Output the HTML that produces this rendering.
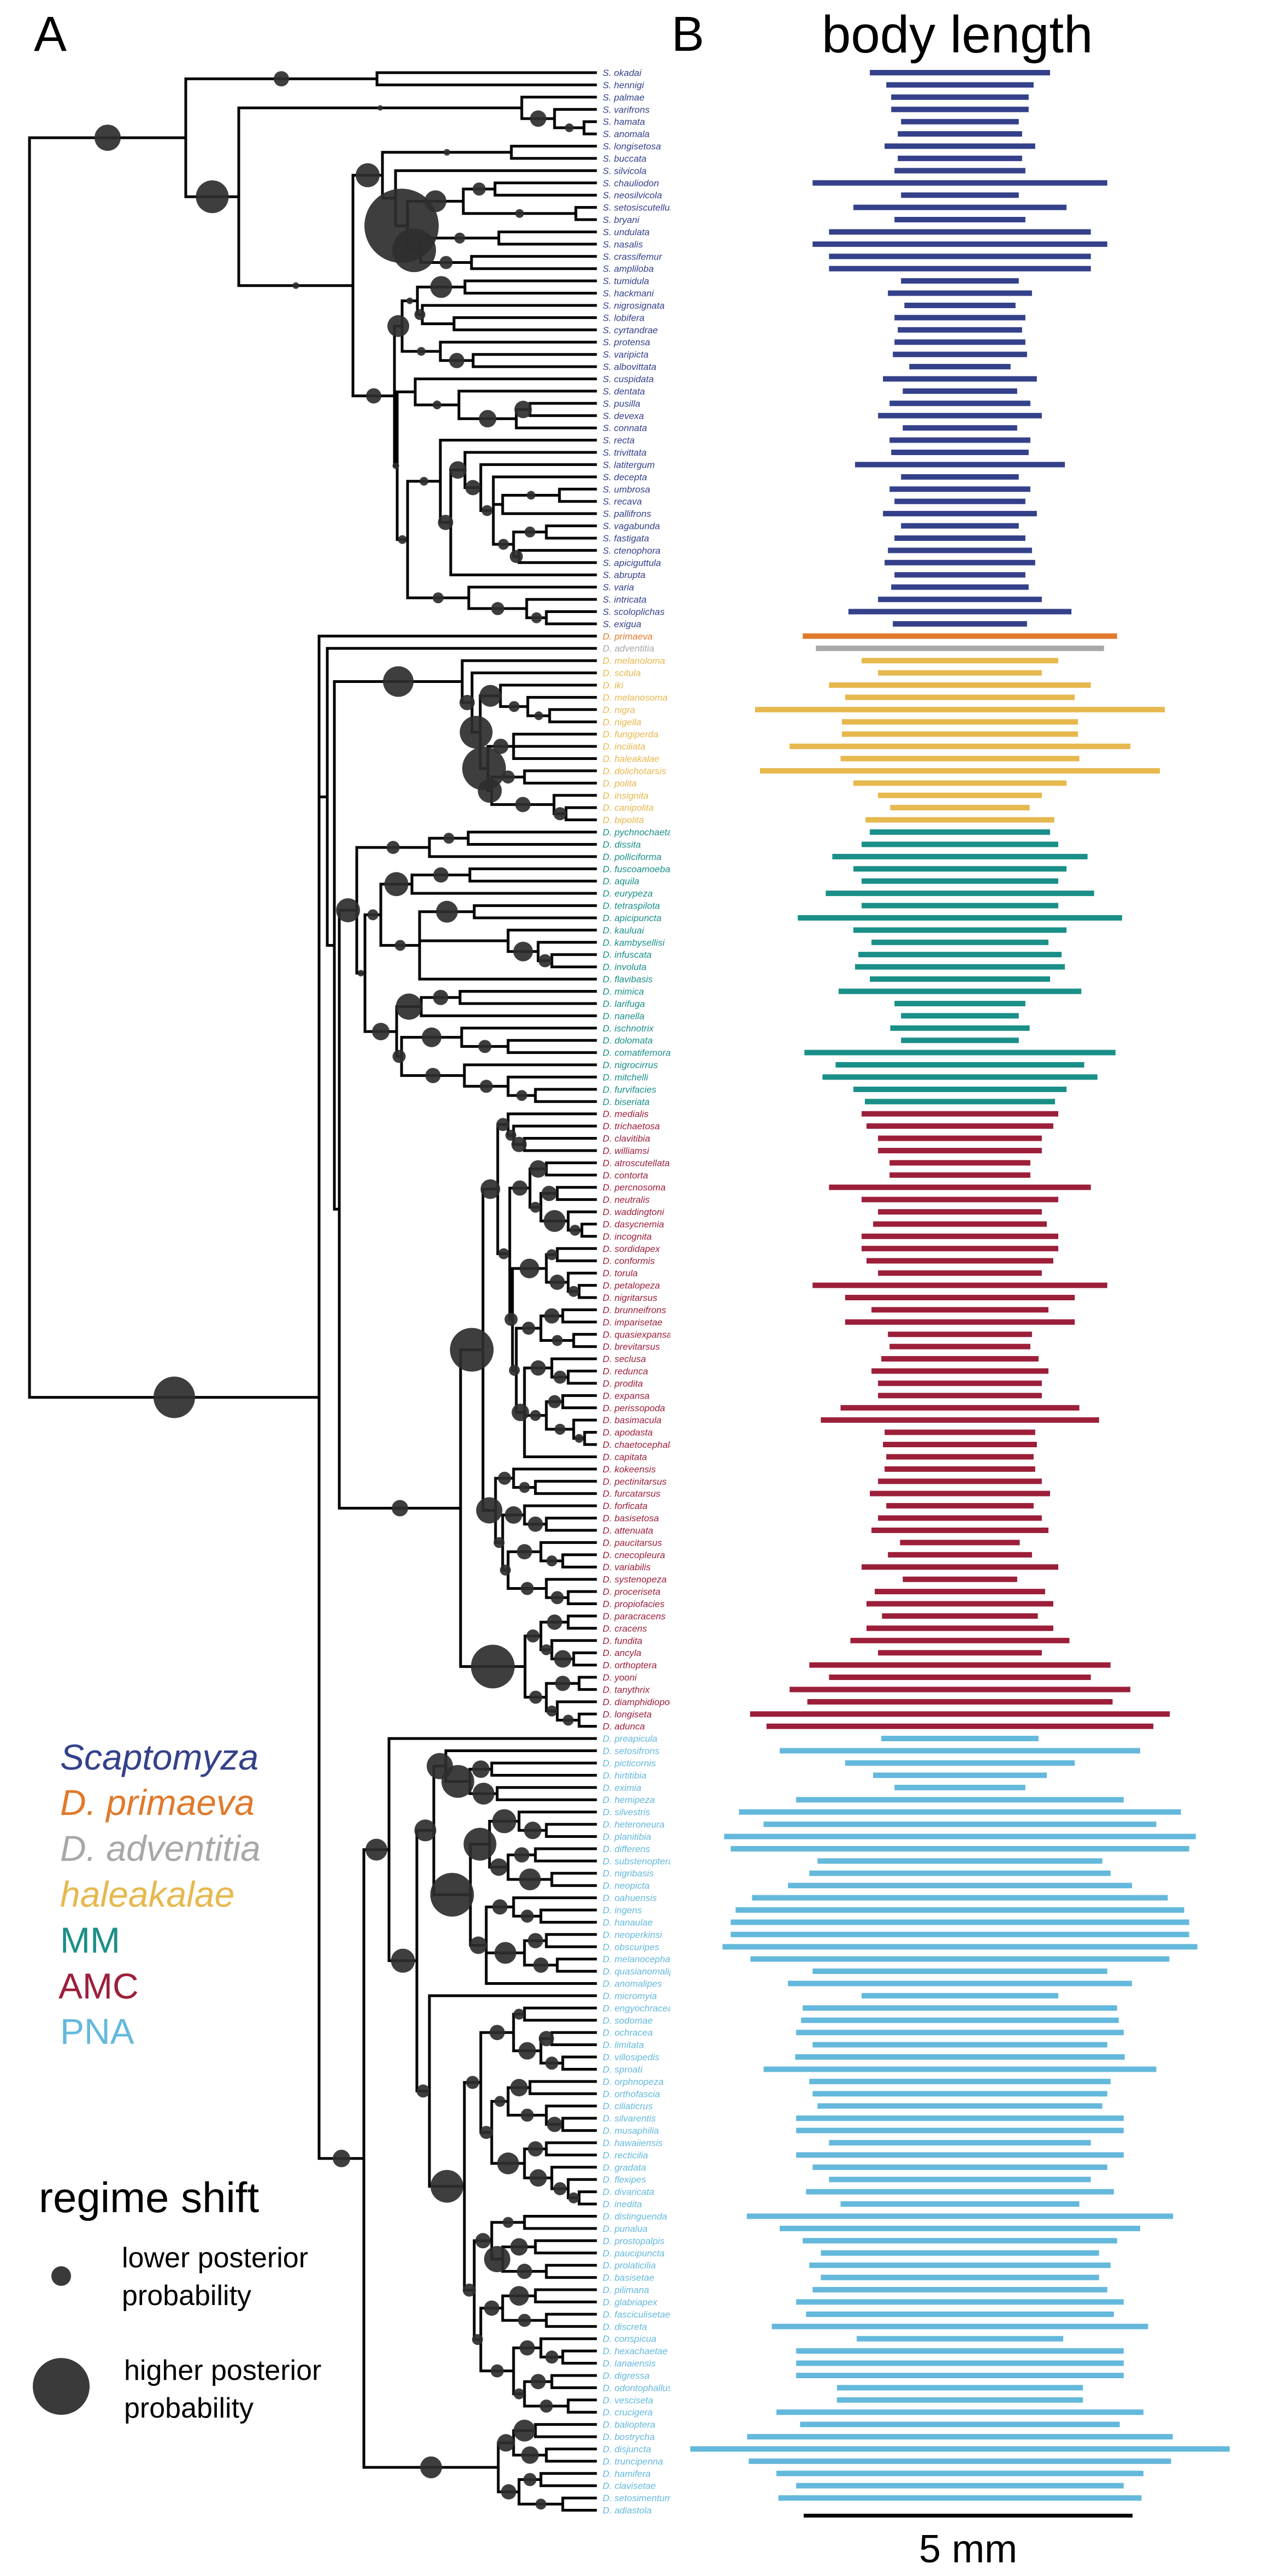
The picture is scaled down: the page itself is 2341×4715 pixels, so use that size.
<!DOCTYPE html>
<html><head><meta charset="utf-8">
<style>
html,body{margin:0;padding:0;background:#fff;}
svg{display:block;}
.tip{font-family:"Liberation Sans",sans-serif;font-style:italic;font-size:17px;}
</style></head>
<body>
<svg id="fig" width="2341" height="4715" viewBox="0 0 2341 4715" xmlns="http://www.w3.org/2000/svg">
<defs><clipPath id="labclip"><rect x="1095" y="0" width="132" height="4715"/></clipPath></defs>
<text x="62" y="93" font-family="Liberation Sans, sans-serif" font-size="90">A</text>
<text x="1229" y="93" font-family="Liberation Sans, sans-serif" font-size="90">B</text>
<text x="1504" y="96" font-family="Liberation Sans, sans-serif" font-size="96">body length</text>
<g id="tree"></g>
<g id="circles"></g>
<g id="labels" clip-path="url(#labclip)"></g>
<g id="bars"></g>
<g>
<rect x="1471" y="4601" width="602" height="7" fill="#000"/>
<text x="1772" y="4690" text-anchor="middle" font-family="Liberation Sans, sans-serif" font-size="72">5 mm</text>
</g>
<g font-family="Liberation Sans, sans-serif" font-size="66">
<text x="110" y="3239" fill="#34418a" font-style="italic">Scaptomyza</text>
<text x="110" y="3322" fill="#e07a2b" font-style="italic">D. primaeva</text>
<text x="110" y="3406" fill="#a8a8a8" font-style="italic">D. adventitia</text>
<text x="110" y="3490" fill="#e6b84e" font-style="italic">haleakalae</text>
<text x="110" y="3574" fill="#1a8f88">MM</text>
<text x="107" y="3658" fill="#9c1f3a">AMC</text>
<text x="110" y="3741" fill="#64b8dc">PNA</text>
</g>
<g font-family="Liberation Sans, sans-serif">
<text x="71" y="4049" font-size="78">regime shift</text>
<circle cx="112" cy="4166" r="18" fill="#3a3a3a"/>
<text x="223" y="4150" font-size="52">lower posterior</text>
<text x="223" y="4219" font-size="52">probability</text>
<circle cx="112" cy="4368" r="52" fill="#3a3a3a"/>
<text x="227" y="4356" font-size="52">higher posterior</text>
<text x="227" y="4425" font-size="52">probability</text>
</g>
</svg>
<script>
const taxa = ["S. okadai","S. hennigi","S. palmae","S. varifrons","S. hamata","S. anomala","S. longisetosa","S. buccata","S. silvicola","S. chauliodon","S. neosilvicola","S. setosiscutellum","S. bryani","S. undulata","S. nasalis","S. crassifemur","S. ampliloba","S. tumidula","S. hackmani","S. nigrosignata","S. lobifera","S. cyrtandrae","S. protensa","S. varipicta","S. albovittata","S. cuspidata","S. dentata","S. pusilla","S. devexa","S. connata","S. recta","S. trivittata","S. latitergum","S. decepta","S. umbrosa","S. recava","S. pallifrons","S. vagabunda","S. fastigata","S. ctenophora","S. apiciguttula","S. abrupta","S. varia","S. intricata","S. scoloplichas","S. exigua",
"D. primaeva","D. adventitia",
"D. melanoloma","D. scitula","D. iki","D. melanosoma","D. nigra","D. nigella","D. fungiperda","D. inciliata","D. haleakalae","D. dolichotarsis","D. polita","D. insignita","D. canipolita","D. bipolita",
"D. pychnochaeta","D. dissita","D. polliciforma","D. fuscoamoeba","D. aquila","D. eurypeza","D. tetraspilota","D. apicipuncta","D. kauluai","D. kambysellisi","D. infuscata","D. involuta","D. flavibasis","D. mimica","D. larifuga","D. nanella","D. ischnotrix","D. dolomata","D. comatifemora","D. nigrocirrus","D. mitchelli","D. furvifacies","D. biseriata",
"D. medialis","D. trichaetosa","D. clavitibia","D. williamsi","D. atroscutellata","D. contorta","D. percnosoma","D. neutralis","D. waddingtoni","D. dasycnemia","D. incognita","D. sordidapex","D. conformis","D. torula","D. petalopeza","D. nigritarsus","D. brunneifrons","D. imparisetae","D. quasiexpansa","D. brevitarsus","D. seclusa","D. redunca","D. prodita","D. expansa","D. perissopoda","D. basimacula","D. apodasta","D. chaetocephala","D. capitata","D. kokeensis","D. pectinitarsus","D. furcatarsus","D. forficata","D. basisetosa","D. attenuata","D. paucitarsus","D. cnecopleura","D. variabilis","D. systenopeza","D. proceriseta","D. propiofacies","D. paracracens","D. cracens","D. fundita","D. ancyla","D. orthoptera","D. yooni","D. tanythrix","D. diamphidiopoda","D. longiseta","D. adunca",
"D. preapicula","D. setosifrons","D. picticornis","D. hirtitibia","D. eximia","D. hemipeza","D. silvestris","D. heteroneura","D. planitibia","D. differens","D. substenoptera","D. nigribasis","D. neopicta","D. oahuensis","D. ingens","D. hanaulae","D. neoperkinsi","D. obscuripes","D. melanocephala","D. quasianomalipes","D. anomalipes","D. micromyia","D. engyochracea","D. sodomae","D. ochracea","D. limitata","D. villosipedis","D. sproati","D. orphnopeza","D. orthofascia","D. ciliaticrus","D. silvarentis","D. musaphilia","D. hawaiiensis","D. recticilia","D. gradata","D. flexipes","D. divaricata","D. inedita","D. distinguenda","D. punalua","D. prostopalpis","D. paucipuncta","D. prolaticilia","D. basisetae","D. pilimana","D. glabriapex","D. fasciculisetae","D. discreta","D. conspicua","D. hexachaetae","D. lanaiensis","D. digressa","D. odontophallus","D. vesciseta","D. crucigera","D. balioptera","D. bostrycha","D. disjuncta","D. truncipenna","D. hamifera","D. clavisetae","D. setosimentum","D. adiastola"];

const groupSizes = [46, 1, 1, 14, 23, 51, 64];
const groupColors = ["#34418a","#e07a2b","#a8a8a8","#e6b84e","#1a8f88","#9c1f3a","#64b8dc"];

const bodyLengthScapt = [2.74,2.24,2.09,2.09,1.79,1.89,2.29,1.89,1.99,4.48,1.79,3.24,1.99,3.98,4.48,3.98,3.98,1.79,2.19,1.69,1.99,1.89,1.99,2.04,1.54,2.34,1.74,2.14,2.49,1.74,2.14,2.09,3.19,1.79,2.14,1.99,2.34,1.79,1.99,2.19,2.29,1.99,2.09,2.49,3.39,2.04];
const bodyLengthPrimaeva = [4.78];
const bodyLengthAdventitia = [4.38];
const bodyLengthHale = [2.99,2.49,3.98,3.49,6.23,3.59,3.59,5.18,3.63,6.08,3.24,2.49,2.12,2.87];
const bodyLengthMM = [2.74,2.99,3.88,3.24,2.99,4.08,2.99,4.93,3.24,2.69,3.09,3.19,2.74,3.69,1.99,1.79,2.12,1.79,4.73,3.78,4.18,3.24,2.89];
const bodyLengthAMC = [2.99,2.84,2.49,2.49,2.14,2.14,3.98,2.99,2.49,2.64,2.99,2.99,2.84,2.49,4.48,3.49,2.69,3.49,2.19,2.14,2.39,2.69,2.49,2.49,3.63,4.23,2.29,2.34,2.24,2.29,2.49,2.74,2.24,2.49,2.69,1.82,2.19,2.99,1.74,2.59,2.84,2.37,2.84,3.33,2.49,4.58,3.98,5.18,4.64,6.38,5.88];
const bodyLengthPNA = [2.39,5.48,3.49,2.64,1.99,4.98,6.72,5.97,7.17,6.97,4.33,4.58,5.23,6.32,6.82,6.97,6.97,7.22,6.37,4.48,5.23,2.99,4.78,4.83,4.98,4.48,5.01,5.97,4.58,4.48,4.33,4.98,4.98,3.98,4.98,4.48,3.98,4.68,3.63,6.48,5.48,4.78,4.23,4.58,4.23,4.48,4.98,4.68,5.72,3.14,4.98,4.98,4.98,3.74,3.74,5.58,4.86,6.47,8.2,6.42,5.58,4.98,5.52,0];

const lengths = [].concat(bodyLengthScapt, bodyLengthPrimaeva, bodyLengthAdventitia, bodyLengthHale, bodyLengthMM, bodyLengthAMC, bodyLengthPNA);

// axes
const ROW0 = 133, ROWSTEP = 22.42;
function yRow(i){ return ROW0 + i*ROWSTEP; }
const BAR_CX = 1757, PX_PER_MM = 120.4;
function xHalf(mm){ return mm*PX_PER_MM/2; }
const TIP_X = 1090;

const NS = "http://www.w3.org/2000/svg";
function mk(tag, attrs){ const e=document.createElementNS(NS,tag); for(const k in attrs) e.setAttribute(k, attrs[k]); return e; }

function groupOf(i){ let s=0; for(let g=0; g<groupSizes.length; g++){ s+=groupSizes[g]; if(i<s) return g; } return groupSizes.length-1; }

// bars and labels
const barsG = document.getElementById('bars');
const labG = document.getElementById('labels');
for(let i=0;i<taxa.length;i++){
  const col = groupColors[groupOf(i)];
  const y = yRow(i);
  const t = mk('text',{x:1103, y:(y+6).toFixed(1), fill:col, class:'tip'});
  
  
  t.textContent = taxa[i];
  labG.appendChild(t);
  if(lengths[i] > 0){
    const h = xHalf(lengths[i]);
    const r = mk('rect',{x:(BAR_CX-h).toFixed(1), y:(y-5).toFixed(1), width:(2*h).toFixed(1), height:10, fill:col});
    
    
    barsG.appendChild(r);
  }
}

// tree: N(nodeX, stemCircleRadius, ...children); leaves are tip indices
function N(x, r, ...kids){ return {x:x, r:r, kids:kids}; }

const scapt = N(340,24,
  N(690,14,0,1),
  N(437,30,
    N(955,5,2,N(1015,15,3,N(1069,8,4,5))),
    N(646,6,
      N(700,22,N(936,6,6,7),N(724,0,8,N(746,68,N(848,20,N(906,12,9,10),N(1054,8,11,12)),N(770,40,N(913,10,13,14),N(863,12,15,16))))),
      N(722,14,
        N(736,20,N(764,6,N(851,20,17,18),N(773,10,19,N(831,0,20,21))),N(806,8,22,N(866,14,23,24))),
        N(727,6,
          N(760,0,25,N(840,8,26,N(945,16,N(970,16,27,28),29))),
          N(746,8,
            N(806,8,30,N(825,14,N(851,16,31,N(880,14,32,N(903,10,33,N(920,0,N(1024,8,34,35),36),N(940,10,N(1000,10,37,38),N(950,12,39,40))))),41)),
            N(858,10,42,N(964,12,43,N(1000,10,44,45)))))))));

const hale = N(846,28,48,N(864,14,49,
  N(879,30,N(916,20,50,N(966,10,51,N(1006,8,52,53))),N(893,40,N(940,14,54,55,56),N(900,22,N(960,12,57,58),N(1014,14,59,N(1036,12,60,61)))))));

const mm = N(653,22,
  N(786,12,N(857,10,62,63),64),
  N(668,6,
    N(697,10,N(754,22,N(860,14,65,66),67),N(768,10,N(868,20,68,69),N(930,0,70,N(985,18,71,N(1010,12,72,73))),74)),
    N(726,16,N(771,24,N(842,14,75,76),77),N(735,12,N(845,18,78,N(930,12,79,80)),N(850,14,81,N(930,12,82,N(980,10,83,84)))))));

const amc = N(843,15,
  N(884,40,
    N(911,18,N(930,12,85,N(940,10,86,N(960,14,87,88))),
      N(933,10,N(970,14,N(1000,16,89,90),N(990,10,N(1020,14,91,92),N(1040,20,93,N(1065,10,94,95)))),
        N(938,12,N(1000,18,N(1020,10,96,97),N(1040,14,98,N(1060,10,99,100))),
          N(945,10,N(990,12,N(1030,14,101,102),N(1050,10,103,104)),
            N(960,16,N(1010,14,105,N(1040,12,106,107)),N(1000,10,N(1030,12,108,109),N(1050,10,110,N(1070,8,111,112))),113))))),
    N(907,24,N(940,12,114,N(980,10,115,116)),N(920,10,N(960,16,117,N(1000,14,118,119)),N(930,10,N(990,14,120,N(1030,10,121,122)),N(1000,12,123,N(1040,12,124,125)))))),
  N(961,40,N(990,12,N(1040,14,126,127),N(1010,10,128,N(1050,16,129,130))),N(1000,12,N(1060,14,131,132),N(1020,10,133,N(1060,10,134,135)))));

const pna = N(666,16,
  N(712,20,136,N(763,22,
    N(794,20,N(816,24,137,N(860,30,N(900,16,138,139),N(910,20,140,141))),
      N(861,40,N(896,30,N(950,22,142,N(1000,16,143,144)),N(930,16,N(980,14,145,146),N(1010,20,147,148))),
        N(890,16,N(940,14,149,N(990,12,150,151)),N(960,20,N(1000,14,152,153),N(1020,14,154,155)),156))),
    N(786,12,157,N(850,30,
      N(880,12,N(940,14,N(960,10,158,159),N(990,16,N(1010,14,160,161),N(1030,12,162,163))),
        N(900,12,N(930,10,N(970,16,164,165),N(1000,12,166,N(1030,14,167,168))),N(960,20,N(1000,14,169,170),N(1010,16,171,N(1040,12,172,N(1060,10,173,174)))))),
      N(868,12,N(900,14,N(960,10,175,176),N(920,24,N(980,16,177,178),N(1000,14,179,180))),
        N(880,10,N(920,14,N(980,18,181,182),N(1000,12,183,184)),N(940,12,N(990,14,185,N(1030,12,186,187)),N(960,10,N(1010,14,188,189),N(1040,12,190,191))))))))),
  N(912,20,N(940,16,N(980,20,192,193),N(1000,16,194,195)),N(950,14,N(990,12,196,197),N(1030,10,198,199))));

const dros = N(584,38,46,N(599,0,47,N(612,0,hale,N(621,0,mm,amc))),pna);
const root = N(54,0,scapt,dros);

const treeG = document.getElementById('tree');
const circG = document.getElementById('circles');
let treePath = "";
function layout(n){
  if(typeof n === 'number') return {x:TIP_X, y:yRow(n)};
  const pts = n.kids.map(layout);
  n.kidPts = pts;
  n.y = (pts[0].y + pts[pts.length-1].y)/2;
  return {x:n.x, y:n.y, node:n};
}
layout(root);
function draw(n, parentX){
  treePath += `M${n.x} ${n.kidPts[0].y.toFixed(1)}V${n.kidPts[n.kidPts.length-1].y.toFixed(1)}`;
  n.kidPts.forEach(p=>{ treePath += `M${n.x} ${p.y.toFixed(1)}H${p.x}`; });
  if(parentX !== null){
    treePath += `M${parentX} ${n.y.toFixed(1)}H${n.x}`;
    if(n.r > 0){
      const c = mk('circle',{cx:((parentX+n.x)/2).toFixed(1), cy:n.y.toFixed(1), r:n.r, fill:'#2e2e2e', 'fill-opacity':0.92});
      
      
      circG.appendChild(c);
    }
  }
  n.kids.forEach(k=>{ if(typeof k !== 'number') draw(k, n.x); });
}
draw(root, null);
const tp = mk('path',{d:treePath, stroke:'#000', 'stroke-width':5, fill:'none', 'stroke-linecap':'square'});


treeG.appendChild(tp);
</script>
</body></html>
